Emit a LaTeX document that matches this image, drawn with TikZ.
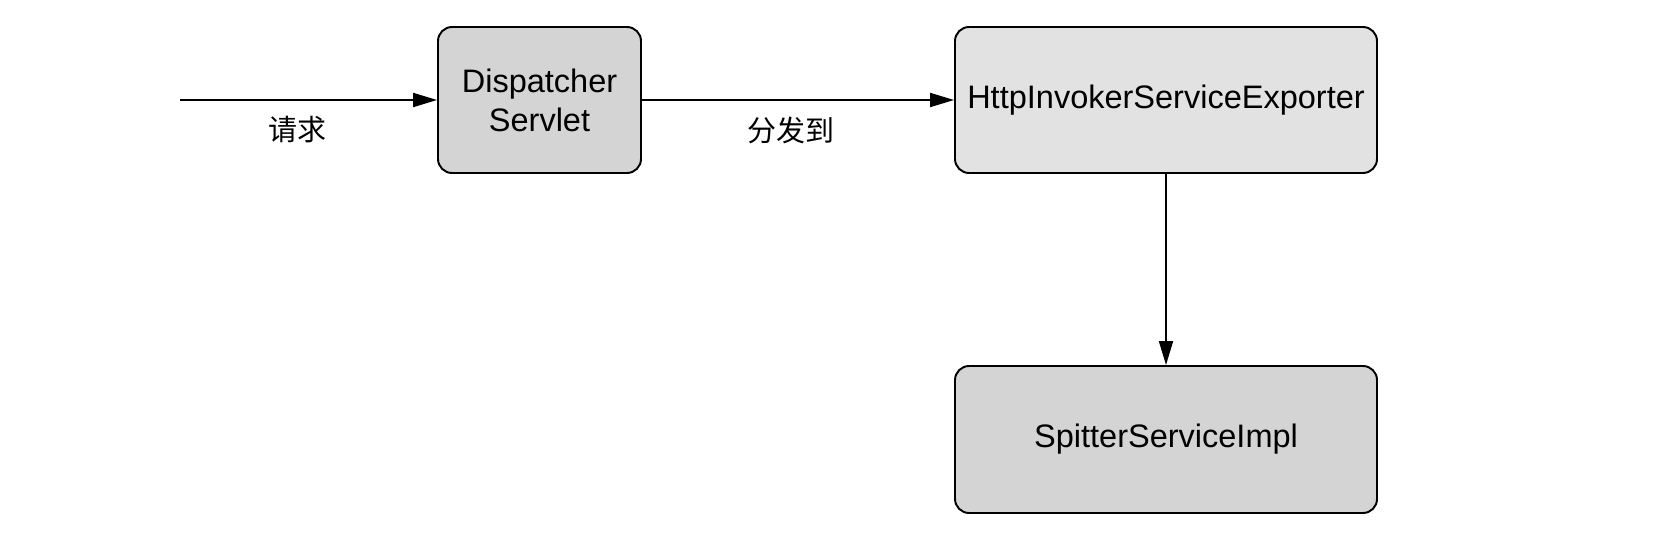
\documentclass[tikz,border=0pt]{standalone}
\usepackage{fontspec}
\setmainfont{Liberation Sans}
\newfontfamily\cjk{Noto Sans CJK SC}
\usepackage{tikz}
\usetikzlibrary{arrows.meta}
\definecolor{boxdark}{HTML}{D4D4D4}
\definecolor{boxlight}{HTML}{E2E2E2}

\begin{document}
\begin{tikzpicture}[
  comp/.style={draw, line width=1.1pt, rounded corners=8pt, align=center,
    minimum height=2.92cm, font=\fontsize{18.5}{22.2}\selectfont, inner sep=0pt},
  flow/.style={line width=1.1pt, -{Triangle[length=0.48cm, width=0.28cm]}},
  lbl/.style={font=\cjk\fontsize{16.5}{20}\selectfont}
]
  \useasboundingbox (0,0) rectangle (33.52,11.16);

  % Components
  \node[comp, fill=boxdark, minimum width=4.06cm] (disp) at (10.79,9.16) {Dispatcher\\Servlet};
  \node[comp, fill=boxlight, minimum width=8.44cm] (exporter) at (23.32,9.16) {HttpInvokerServiceExporter};
  \node[comp, fill=boxdark, minimum width=8.44cm, minimum height=2.94cm] (impl) at (23.32,2.37) {SpitterServiceImpl};

  % Request entry
  \coordinate (req) at (3.6,9.16);

  % Connectors
  \draw[flow] (req) -- (disp);
  \draw[flow] (disp) -- (exporter);
  \draw[flow] (exporter) -- (impl);

  % Labels
  \node[lbl] (reqlbl) at (5.94,8.56) {请求};
  \node[lbl] (fwdlbl) at (15.82,8.56) {分发到};
\end{tikzpicture}
\end{document}
